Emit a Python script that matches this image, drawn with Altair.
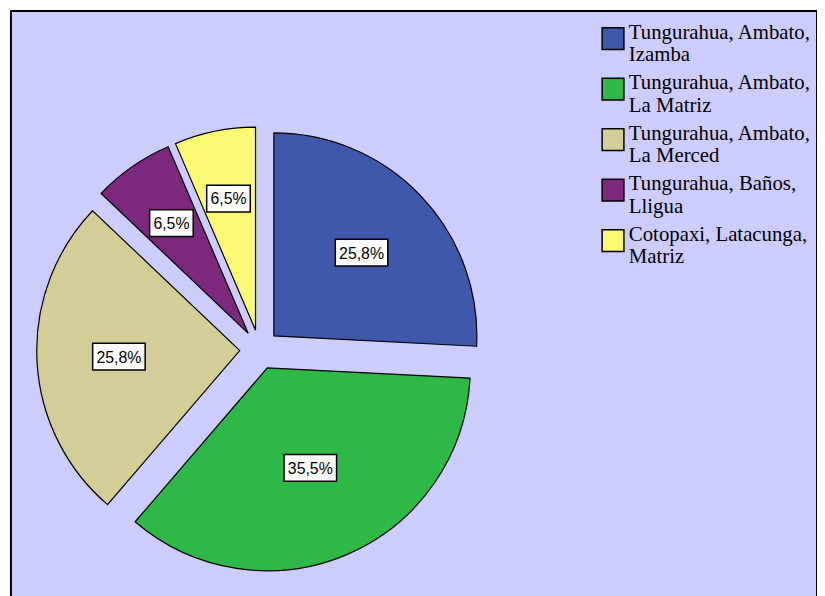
import altair as alt
import pandas as pd

# ---- data ----
categorias = [
    "Tungurahua, Ambato,\nIzamba",
    "Tungurahua, Ambato,\nLa Matriz",
    "Tungurahua, Ambato,\nLa Merced",
    "Tungurahua, Baños,\nLligua",
    "Cotopaxi, Latacunga,\nMatriz",
]
frecuencias = [8, 11, 8, 2, 2]
colores = ["#3E58AC", "#2EB848", "#D3CE97", "#7C287D", "#FBF873"]

df = pd.DataFrame({"cat": categorias, "freq": frecuencias, "orden": list(range(len(categorias)))})

# ---- geometry (plot-area pixels) ----
CX, CY = 251, 342     # pie centre
R = 205               # radius
D = 20                # explode distance
BOX_H = 27

base = (
    alt.Chart(df)
    .transform_joinaggregate(total="sum(freq)")
    .transform_window(cum="sum(freq)", sort=[alt.SortField("orden")], frame=[None, 0])
    .transform_calculate(
        t0="2*PI*(datum.cum - datum.freq)/datum.total",
        t1="2*PI*datum.cum/datum.total",
    )
    .transform_calculate(
        mid="(datum.t0 + datum.t1)/2",
        half="(datum.t1 - datum.t0)/2",
    )
    .transform_calculate(
        ox=f"{CX} + {D}*sin(datum.mid)",
        oy=f"{CY} - {D}*cos(datum.mid)",
        cr=f"2*{R}*sin(datum.half)/(3*datum.half)",
        pct="replace(format(datum.freq/datum.total*100, '.1f'), '.', ',') + '%'",
    )
    .transform_calculate(
        lx="datum.ox + datum.cr*sin(datum.mid)",
        ly="datum.oy - datum.cr*cos(datum.mid)",
        bw="9*length(datum.pct) + 8",
    )
    .transform_calculate(
        bx0="datum.lx - datum.bw/2",
        bx1="datum.lx + datum.bw/2",
        by0=f"datum.ly - {BOX_H}/2",
        by1=f"datum.ly + {BOX_H}/2",
    )
)

arcs = base.mark_arc(radius=R, stroke="black", strokeWidth=1.2).encode(
    theta=alt.Theta("t0:Q", scale=None, stack=None),
    theta2="t1:Q",
    x=alt.X("ox:Q", scale=None, axis=None),
    y=alt.Y("oy:Q", scale=None, axis=None),
    color=alt.Color(
        "cat:N",
        scale=alt.Scale(domain=categorias, range=colores),
        sort=categorias,
        legend=alt.Legend(
            title=None,
            orient="none",
            legendX=596,
            legendY=16,
            symbolType="square",
            symbolSize=484,
            symbolStrokeColor="black",
            symbolStrokeWidth=1.5,
            symbolOpacity=1,
            labelFont="Liberation Serif",
            labelFontSize=21,
            labelColor="black",
            labelLimit=400,
            labelOffset=4,
            labelBaseline="alphabetic",
            labelExpr="split(datum.label, '\\n')",
            rowPadding=7,
            padding=0,
        ),
    ),
    order=alt.Order("orden:Q"),
)

boxes = base.mark_rect(fill="white", stroke="black", strokeWidth=1.5).encode(
    x=alt.X("bx0:Q", scale=None, axis=None),
    x2="bx1:Q",
    y=alt.Y("by0:Q", scale=None, axis=None),
    y2="by1:Q",
)

labels = base.mark_text(font="Liberation Sans", fontSize=16, color="black", baseline="middle", dy=1).encode(
    x=alt.X("lx:Q", scale=None, axis=None),
    y=alt.Y("ly:Q", scale=None, axis=None),
    text="pct:N",
)

chart = (
    alt.layer(arcs, boxes, labels)
    .properties(
        width=814,
        height=600,
        padding={"left": 3, "top": 0, "right": 0, "bottom": 0},
        autosize=alt.AutoSizeParams(type="none"),
    )
    .configure_view(fill="#CCCCFF", stroke="black", strokeWidth=2)
)

chart.save("out.html", embed_options={"renderer": "svg", "actions": False})
